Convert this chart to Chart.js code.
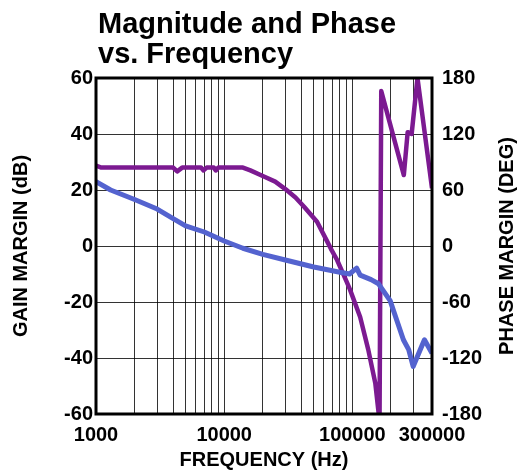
<!DOCTYPE html>
<html>
<head>
<meta charset="utf-8">
<script src="https://cdn.jsdelivr.net/npm/chart.js@4/dist/chart.umd.min.js"></script>
<style>
  html, body { margin: 0; padding: 0; background: #fff; }
  canvas { display: block; }
</style>
</head>
<body>
<canvas id="bode" width="519" height="475"></canvas>
<script>
// gain (blue, left axis)
const gainFreq = [1000, 1300, 2000, 3000, 4000, 5000, 7000, 10000, 14000, 20000, 30000, 50000,
                  80000, 95000, 108000, 115000, 140000, 160000, 197000, 220000, 250000, 275000,
                  298000, 365000, 418000];
const gainDb = [23, 20, 16.6, 13.2, 9.8, 7.2, 5, 1.8, -0.8, -3, -5, -7.5,
                -9.4, -10, -7.9, -10.4, -12, -13.5, -19.5, -26, -33.5, -37,
                -43, -33.5, -38.3];

// phase (purple, right axis)
const phaseFreq = [1000, 1100, 4000, 4300, 4700, 6600, 6900, 7300, 8300, 8600, 9000, 14000,
                   16000, 20000, 25000, 30000, 36000, 42000, 53000, 63000, 68000, 76000,
                   90000, 96000, 115000, 133000, 151000, 160000, 163000, 168000, 252000,
                   270000, 290000, 322000, 418000];
const phaseDeg = [86, 84, 84, 80, 84, 84, 81, 84, 84, 81, 84, 84,
                  81, 75, 69, 61, 52, 42, 26, 6, -3, -15,
                  -38, -47, -76, -111, -147, -178, -180, 166, 76,
                  122, 120, 180, 62];

const xMin = 1000;
const xMax = 418000;
const xLabelValues = [1000, 10000, 100000, xMax];
const xTickLabels = ['1000', '10000', '100000', '300000'];

const gainTicks = [-60, -40, -20, 0, 20, 40, 60];
const phaseTicks = [-180, -120, -60, 0, 60, 120, 180];

function pts(xs, ys) {
    return xs.map(function(x, i) { return { x: x, y: ys[i] }; });
}

// vertical grid lines: 1..9 per decade up to 300000, plus the right edge
const gridFreqs = [];
for (let d = 1000; d <= 100000; d *= 10) {
    for (let m = 1; m <= 9; m++) {
        if (d * m <= 300000) gridFreqs.push(d * m);
    }
}
gridFreqs.push(xMax);

const tickFont = { family: "'Liberation Sans', Arial, sans-serif", size: 20, weight: 'bold' };

const frameAndTitles = {
    id: 'frameAndTitles',
    afterDatasetsDraw(chart) {
        const ctx = chart.ctx;
        const a = chart.chartArea;
        ctx.save();
        ctx.strokeStyle = '#000';
        ctx.lineWidth = 3;
        ctx.strokeRect(a.left, a.top, a.right - a.left, a.bottom - a.top);

        ctx.fillStyle = '#000';
        ctx.textAlign = 'left';
        ctx.textBaseline = 'alphabetic';
        ctx.font = "bold 29px 'Liberation Sans', Arial, sans-serif";
        ctx.fillText('Magnitude and Phase', 98, 33);
        ctx.fillText('vs. Frequency', 98, 63);

        // right axis title, reading bottom to top
        ctx.font = "bold 20px 'Liberation Sans', Arial, sans-serif";
        ctx.translate(507, (a.top + a.bottom) / 2);
        ctx.rotate(-Math.PI / 2);
        ctx.textAlign = 'center';
        ctx.textBaseline = 'middle';
        ctx.fillText('PHASE MARGIN (DEG)', 0, 0);
        ctx.restore();
    }
};

new Chart(document.getElementById('bode'), {
    type: 'line',
    data: {
        datasets: [{
            label: 'Gain',
            data: pts(gainFreq, gainDb),
            yAxisID: 'y',
            borderColor: '#5463cf',
            borderWidth: 5,
            borderJoinStyle: 'round',
            pointRadius: 0,
            tension: 0,
        }, {
            label: 'Phase',
            data: pts(phaseFreq, phaseDeg),
            yAxisID: 'y1',
            borderColor: '#7c1a91',
            borderWidth: 4.5,
            borderJoinStyle: 'round',
            pointRadius: 0,
            tension: 0,
        }],
    },
    options: {
        responsive: false,
        animation: false,
        layout: { padding: { top: 78, left: 0, right: 0, bottom: 0 } },
        plugins: {
            legend: { display: false },
            tooltip: { enabled: false },
        },
        scales: {
            x: {
                type: 'logarithmic',
                min: xMin,
                max: xMax,
                afterBuildTicks: function(scale) {
                    scale.ticks = gridFreqs.map(function(v) { return { value: v }; });
                },
                afterFit: function(scale) { scale.height = 61; },
                ticks: {
                    autoSkip: false,
                    maxRotation: 0,
                    padding: 9,
                    color: '#000',
                    font: tickFont,
                    callback: function(value) {
                        const k = xLabelValues.indexOf(value);
                        return k >= 0 ? xTickLabels[k] : '';
                    },
                },
                grid: { color: 'rgba(0,0,0,0.8)', lineWidth: 1, drawTicks: false },
                border: { display: false },
                title: {
                    display: true,
                    text: 'FREQUENCY (Hz)',
                    color: '#000',
                    font: tickFont,
                    padding: { top: 0, bottom: 3 },
                },
            },
            y: {
                position: 'left',
                min: -60,
                max: 60,
                afterBuildTicks: function(scale) {
                    scale.ticks = gainTicks.map(function(v) { return { value: v }; });
                },
                afterFit: function(scale) { scale.width = 96; },
                ticks: { padding: 3, color: '#000', font: tickFont },
                grid: { color: 'rgba(0,0,0,0.8)', lineWidth: 1, drawTicks: false },
                border: { display: false },
                title: {
                    display: true,
                    text: 'GAIN MARGIN (dB)',
                    color: '#000',
                    font: tickFont,
                    padding: { top: 9, bottom: 0 },
                },
            },
            y1: {
                position: 'right',
                min: -180,
                max: 180,
                afterBuildTicks: function(scale) {
                    scale.ticks = phaseTicks.map(function(v) { return { value: v }; });
                },
                afterFit: function(scale) { scale.width = 87; },
                ticks: { padding: 10, color: '#000', font: tickFont },
                grid: { drawOnChartArea: false, drawTicks: false },
                border: { display: false },
            },
        },
    },
    plugins: [frameAndTitles],
});
</script>
</body>
</html>
